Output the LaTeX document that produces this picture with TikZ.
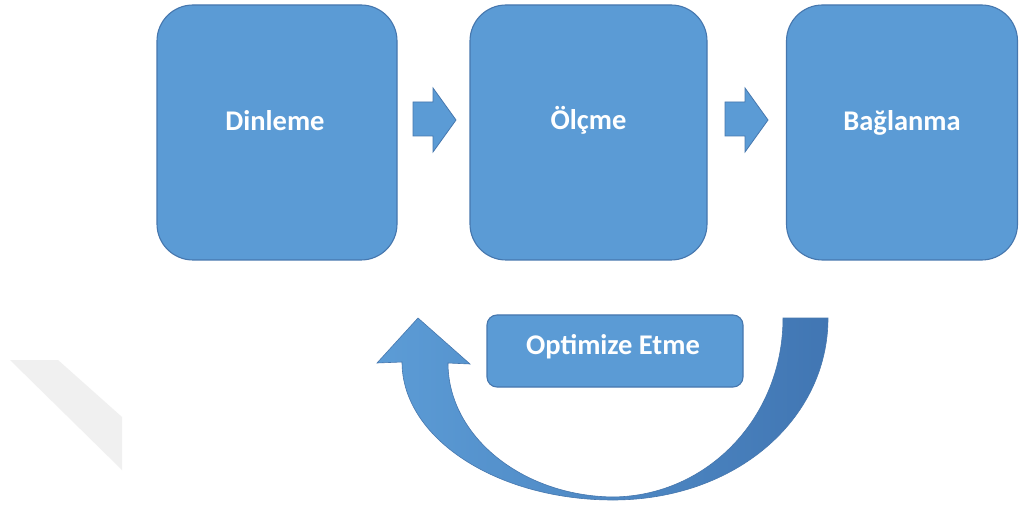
\documentclass[tikz,border=0pt]{standalone}
\usepackage{fontspec}
\setmainfont{Carlito}
\usetikzlibrary{calc}
\definecolor{boxblue}{HTML}{5B9BD5}
\definecolor{boxedge}{HTML}{4677AE}
\definecolor{arrowlight}{HTML}{5C9CD6}
\definecolor{arrowdark}{HTML}{4176B3}
\definecolor{ghost}{HTML}{F0F0F0}
\tikzset{
  bigbox/.style={draw=boxedge, line width=1.1pt, fill=boxblue, rounded corners=36pt,
    minimum height=255pt, inner sep=0pt},
  smallbox/.style={draw=boxedge, line width=1.1pt, fill=boxblue, rounded corners=10pt,
    minimum width=256pt, minimum height=72pt, inner sep=0pt},
  lbl/.style={text=white, font=\bfseries\fontsize{28.5}{30}\selectfont, inner sep=0pt},
  blockarrow/.style={fill=boxblue, draw=boxedge, line width=0.8pt, line join=miter},
}
\begin{document}
\begin{tikzpicture}[x=1pt,y=-1pt]
\useasboundingbox (0,0) rectangle (1019,510);
\fill[white] (0,0) rectangle (1019,510);
% faint gray shape at left
\fill[ghost] (10,360) -- (58,360) -- (122,417) -- (122,470) -- cycle;

% main boxes
\node[bigbox, minimum width=240pt] (b1) at (277,132.5) {};
\node[bigbox, minimum width=237pt] (b2) at (588.5,132.5) {};
\node[bigbox, minimum width=231pt] (b3) at (902,132.5) {};
\node[lbl] (t1) at ($(b1.center)+(-2,-12)$) {Dinleme};
\node[lbl] (t2) at ($(b2.center)+(0,-12)$) {Ölçme};
\node[lbl] (t3) at ($(b3.center)+(0,-10)$) {Bağlanma};

% block arrows between boxes
\draw[blockarrow] (413,102) -- (433,102) -- (433,88) -- (456,120) -- (433,152)
  -- (433,136) -- (413,136) -- cycle;
\draw[blockarrow] (725,102) -- (745,102) -- (745,88) -- (768,120) -- (745,152)
  -- (745,136) -- (725,136) -- cycle;

% optimize box
\node[smallbox] (opt) at (615,351) {};
\node[lbl] (t4) at ($(opt.center)+(-2,-4)$) {Optimize Etme};

% curved return arrow
\draw[draw=boxedge, line width=0.6pt, left color=arrowlight, right color=arrowdark]
  (828,318) .. controls (828,420) and (735,500) .. (613,500)
  .. controls (496.5,500) and (402,438) .. (402,362)
  -- (377,363) -- (418,318) -- (470,364) -- (448,363)
  .. controls (448,436) and (522,496) .. (613,497)
  .. controls (708,496) and (783,417) .. (783,318)
  -- cycle;
\end{tikzpicture}
\end{document}
